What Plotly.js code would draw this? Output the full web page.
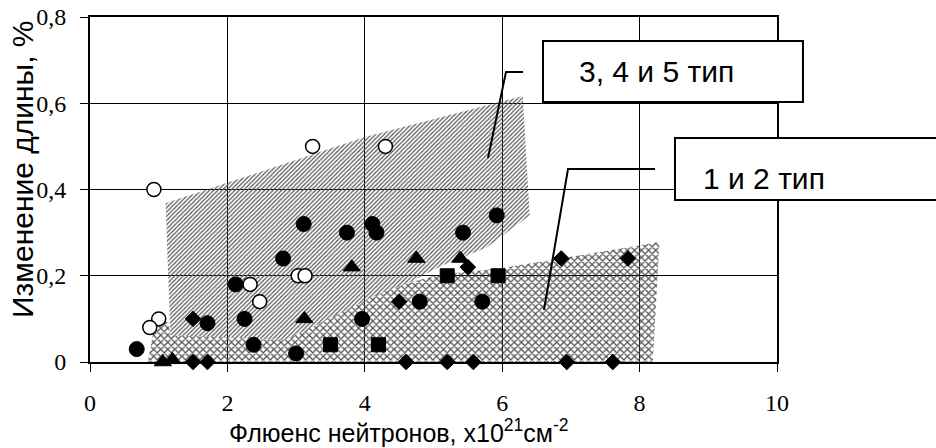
<!DOCTYPE html>
<html>
<head>
<meta charset="utf-8">
<script src="https://cdn.plot.ly/plotly-3.0.1.min.js"></script>
<style>
  html, body { margin: 0; padding: 0; background: #fff; }
  #chart { width: 936px; height: 448px; }
</style>
</head>
<body>
<div id="chart"></div>
<script>
// Fluence (x10^21 cm^-2) and length change (%) by sample type
const openCircleX = [0.93, 3.24, 4.30, 1.00, 0.87, 2.33, 2.47, 3.03, 3.13];
const openCircleY = [0.40, 0.50, 0.50, 0.10, 0.08, 0.18, 0.14, 0.20, 0.20];

const circleX = [0.68, 1.71, 2.12, 2.25, 2.38, 2.81, 3.00, 3.11, 3.74, 3.96, 4.11, 4.17, 4.80, 5.43, 5.71, 5.92];
const circleY = [0.03, 0.09, 0.18, 0.10, 0.04, 0.24, 0.02, 0.32, 0.30, 0.10, 0.32, 0.30, 0.14, 0.30, 0.14, 0.34];

const triangleX = [1.06, 1.20, 3.12, 3.81, 4.75, 5.39];
const triangleY = [0.00, 0.005, 0.10, 0.22, 0.24, 0.24];

const squareX = [3.50, 4.20, 5.20, 5.94];
const squareY = [0.04, 0.04, 0.20, 0.20];

const diamondX = [1.50, 1.50, 1.71, 4.50, 4.60, 5.20, 5.50, 5.58, 6.86, 6.94, 7.61, 7.83];
const diamondY = [0.10, 0.00, 0.00, 0.14, 0.00, 0.00, 0.22, 0.00, 0.24, 0.00, 0.00, 0.24];

// Outline of the band for types 3, 4 and 5
const band345X = [1.10, 3.99, 6.30, 6.40, 5.78, 5.10, 4.66, 4.22, 3.06, 2.84, 1.17];
const band345Y = [0.368, 0.521, 0.617, 0.340, 0.266, 0.222, 0.185, 0.159, 0.067, 0.051, 0.062];

// Outline of the band for types 1 and 2
const band12X = [0.84, 0.92, 1.05, 1.14, 1.17, 2.84, 3.06, 4.22, 4.66, 5.10, 5.97, 8.29, 8.19];
const band12Y = [0.000, 0.067, 0.093, 0.093, 0.062, 0.051, 0.067, 0.159, 0.185, 0.203, 0.217, 0.278, 0.000];

const xTicks = [0, 2, 4, 6, 8, 10];
const yTicks = [0, 0.2, 0.4, 0.6, 0.8];
const yTickText = ['0', '0,2', '0,4', '0,6', '0,8'];

const label345 = '3, 4 и 5 тип';
const label12 = '1 и 2 тип';
const xTitle = 'Флюенс нейтронов, x10<sup>21</sup>см<sup>-2</sup>';
const yTitle = 'Изменение длины, %';

const clear = 'rgba(0,0,0,0)';
const serif = 'Liberation Serif, Times New Roman, serif';
const sans = 'Liberation Sans, Arial, sans-serif';

function band(x, y, pattern) {
  return {
    type: 'scatter', mode: 'lines', x: x, y: y,
    fill: 'toself', fillcolor: clear,
    fillpattern: pattern,
    line: { width: 0, color: clear },
    hoverinfo: 'skip', showlegend: false
  };
}

function markers(x, y, symbol, size, fill, lineWidth) {
  return {
    type: 'scatter', mode: 'markers', x: x, y: y,
    marker: { symbol: symbol, size: size, color: fill,
              line: { color: '#000', width: lineWidth } },
    showlegend: false, cliponaxis: false
  };
}

const data = [
  band(band345X, band345Y, { shape: '/', size: 3, solidity: 0.4, fgcolor: '#555', bgcolor: clear }),
  band(band12X, band12Y, { shape: 'x', size: 5, solidity: 0.45, fgcolor: '#555', bgcolor: clear }),
  markers(circleX, circleY, 'circle', 15, '#000', 1),
  markers(triangleX, triangleY, 'triangle-up', 15, '#000', 1),
  markers(squareX, squareY, 'square', 14, '#000', 1),
  markers(diamondX, diamondY, 'diamond', 12, '#000', 1),
  markers(openCircleX, openCircleY, 'circle', 14, '#fff', 1.5)
];

const layout = {
  width: 936, height: 448,
  margin: { l: 90, r: 159, t: 17, b: 86 },
  paper_bgcolor: '#fff', plot_bgcolor: '#fff',
  showlegend: false,
  xaxis: {
    range: [0, 10], tickvals: xTicks, ticktext: xTicks.map(String),
    showgrid: true, gridcolor: '#000', gridwidth: 1,
    zeroline: false, showline: true, linecolor: '#000', linewidth: 2, mirror: true,
    ticks: 'outside', ticklen: 8, tickwidth: 1, tickcolor: '#000',
    ticklabelstandoff: 10,
    tickfont: { family: serif, size: 24, color: '#000' }
  },
  yaxis: {
    range: [0, 0.8], tickvals: yTicks, ticktext: yTickText,
    showgrid: true, gridcolor: '#000', gridwidth: 1,
    zeroline: false, showline: true, linecolor: '#000', linewidth: 2, mirror: true,
    ticks: 'outside', ticklen: 8, tickwidth: 1, tickcolor: '#000',
    ticklabelstandoff: 9,
    tickfont: { family: serif, size: 24, color: '#000' }
  },
  shapes: [
    // leader lines
    { type: 'path', xref: 'paper', yref: 'paper', layer: 'above',
      path: 'M0.6303,0.8406 L0.6055,0.8406 L0.5793,0.5913',
      line: { color: '#000', width: 2 } },
    { type: 'path', xref: 'paper', yref: 'paper', layer: 'above',
      path: 'M0.8224,0.5594 L0.6958,0.5594 L0.6608,0.1507',
      line: { color: '#000', width: 2 } },
    // label boxes
    { type: 'rect', xref: 'paper', yref: 'paper', layer: 'above',
      x0: 0.6594, x1: 1.0378, y0: 0.7536, y1: 0.9304,
      fillcolor: '#fff', line: { color: '#000', width: 2 } },
    { type: 'rect', xref: 'paper', yref: 'paper', layer: 'above',
      x0: 0.8515, x1: 1.24, y0: 0.4696, y1: 0.6493,
      fillcolor: '#fff', line: { color: '#000', width: 2 } }
  ],
  annotations: [
    { text: label345, xref: 'paper', yref: 'paper', x: 0.8239, y: 0.8406,
      xanchor: 'center', yanchor: 'middle', showarrow: false,
      font: { family: sans, size: 30, color: '#000' } },
    { text: label12, xref: 'paper', yref: 'paper', x: 0.9818, y: 0.5333,
      xanchor: 'center', yanchor: 'middle', showarrow: false,
      font: { family: sans, size: 30, color: '#000' } },
    { text: xTitle, xref: 'paper', yref: 'paper', x: 0.4498, y: -0.2,
      xanchor: 'center', yanchor: 'middle', showarrow: false,
      font: { family: sans, size: 25, color: '#000' } },
    { text: yTitle, xref: 'paper', yref: 'paper', x: -0.099, y: 0.5594,
      xanchor: 'center', yanchor: 'middle', showarrow: false, textangle: -90,
      font: { family: sans, size: 30, color: '#000' } }
  ]
};

Plotly.newPlot('chart', data, layout, { staticPlot: true, displayModeBar: false });
</script>
</body>
</html>
